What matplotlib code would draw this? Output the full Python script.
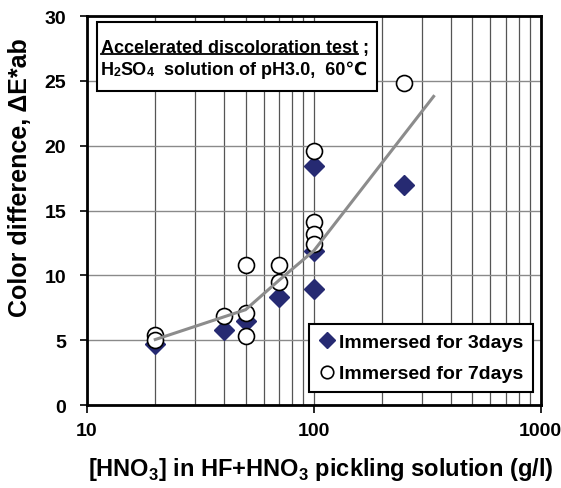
import matplotlib
matplotlib.use("Agg")
import matplotlib.pyplot as plt
from matplotlib.patches import Rectangle
from matplotlib.lines import Line2D

plt.rcParams['font.family'] = ['Liberation Sans', 'DejaVu Sans']
plt.rcParams['font.weight'] = 'bold'

# HNO3 concentration (g/l) and colour difference values
x_3days = [20, 40, 50, 70, 100, 100, 100, 250]
y_3days = [4.7, 5.8, 6.5, 8.3, 18.4, 11.9, 8.95, 17.0]

x_7days = [20, 20, 40, 50, 50, 50, 70, 70, 100, 100, 100, 100, 250]
y_7days = [5.4, 5.0, 6.9, 10.8, 7.1, 5.35, 10.8, 9.5, 19.6, 14.1, 13.2, 12.4, 24.8]

# trend line
x_trend = [20, 50, 70, 100, 337]
y_trend = [5.05, 7.35, 9.6, 11.9, 23.8]

x_ticks = [10, 100, 1000]
y_ticks = [0, 5, 10, 15, 20, 25, 30]

navy = '#262a72'

fig = plt.figure(figsize=(5.61, 4.89), dpi=100)
ax = fig.add_axes([0.155, 0.1697, 0.809, 0.7955])
ax.set_xscale('log')
ax.set_xlim(10, 1000)
ax.set_ylim(0, 30)

ax.grid(True, which='major', axis='y', color='#8a8a8a', lw=1.0, zorder=0)
ax.grid(True, which='both', axis='x', color='#555555', lw=0.9, zorder=0)
ax.set_axisbelow(True)

ax.plot(x_3days, y_3days, ls='none', marker='D', ms=10, color=navy,
        mec=navy, zorder=3)
ax.plot(x_7days, y_7days, ls='none', marker='o', ms=11.5, mfc='white',
        mec='black', mew=1.2, zorder=4)
ax.plot(x_trend, y_trend, color='#8c8c8c', lw=2.2, zorder=5)

ax.set_xticks(x_ticks)
ax.set_xticklabels([str(v) for v in x_ticks], fontsize=14, fontweight='bold')
ax.set_yticks(y_ticks)
ax.set_yticklabels([str(v) for v in y_ticks], fontsize=14, fontweight='bold')
ax.tick_params(axis='x', which='major', direction='out', length=6, width=1.2, pad=6)
ax.tick_params(axis='x', which='minor', length=0)
ax.tick_params(axis='y', direction='out', length=5, width=1.2, pad=10)
for s in ax.spines.values():
    s.set_linewidth(2)
    s.set_color('black')

ax.set_xlabel('[HNO$_\\mathregular{3}$] in HF+HNO$_\\mathregular{3}$ pickling solution (g/l)',
              fontsize=17, fontweight='bold')
ax.xaxis.set_label_coords(0.515, -0.128)
ax.set_ylabel('Color difference, ΔE*ab', fontsize=18, fontweight='bold')
ax.yaxis.set_label_coords(-0.12, 0.586)

# condition box
box = Rectangle((0.022, 0.808), 0.618, 0.177, transform=ax.transAxes,
                facecolor='white', edgecolor='black', lw=1.5, zorder=6)
ax.add_patch(box)

fs_box = 13
fs_sub = 9
t_under = ax.text(0.030, 0.9075, 'Accelerated discoloration test', transform=ax.transAxes,
                  fontsize=fs_box, fontweight='bold', va='baseline', ha='left', zorder=7)
ax.annotate(' ;', xy=(1, 0), xycoords=t_under, va='bottom', ha='left',
            fontsize=fs_box, fontweight='bold', zorder=7)
fig.canvas.draw()
bb = t_under.get_window_extent()
y_line = bb.y0 + 2.0
ax.add_line(Line2D([bb.x0, bb.x1], [y_line, y_line], transform=None,
                   color='black', lw=1.3, zorder=7))

# second line built piece by piece so the subscripts sit on the baseline
pieces = [('SO', fs_box), ('4', fs_sub), ('  solution of pH3.0,  60℃', fs_box)]
prev = ax.text(0.030, 0.851, 'H', transform=ax.transAxes, fontsize=fs_box,
               fontweight='bold', va='baseline', ha='left', zorder=7)
prev = ax.annotate('2', xy=(1, 0), xycoords=prev, va='bottom', ha='left',
                   fontsize=fs_sub, fontweight='bold', zorder=7)
for txt, fs in pieces:
    prev = ax.annotate(txt, xy=(1, 0), xycoords=prev, va='bottom', ha='left',
                       fontsize=fs, fontweight='bold', zorder=7)

handles = [
    Line2D([], [], ls='none', marker='D', ms=8, color=navy),
    Line2D([], [], ls='none', marker='o', ms=9, mfc='white', mec='black', mew=1.2),
]
leg = ax.legend(handles, ['Immersed for 3days', 'Immersed for 7days'],
                loc='lower right', bbox_to_anchor=(0.982, 0.033),
                prop={'weight': 'bold', 'size': 14}, frameon=True, fancybox=False,
                edgecolor='black', framealpha=1, handlelength=0.8, handletextpad=0.2,
                borderpad=0.5, labelspacing=0.7, borderaxespad=0)
leg.get_frame().set_linewidth(1.5)
leg.set_zorder(8)

fig.savefig('out.png', dpi=100)
